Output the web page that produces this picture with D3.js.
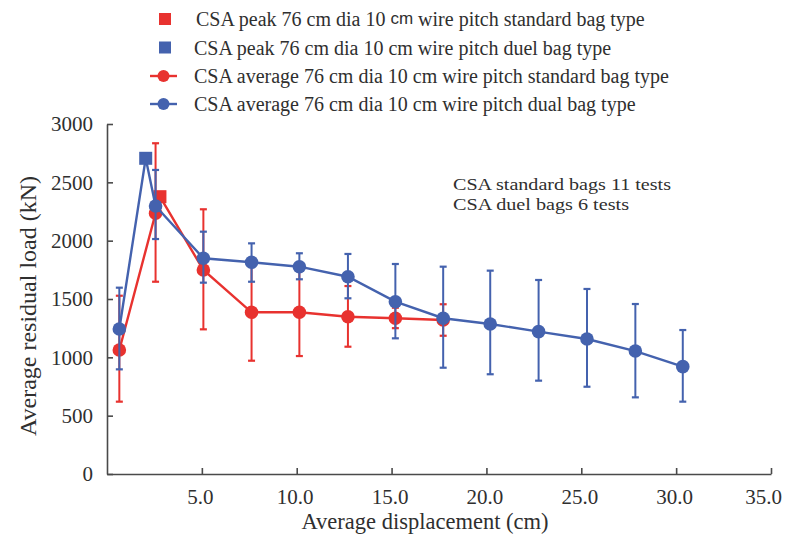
<!DOCTYPE html>
<html>
<head>
<meta charset="utf-8">
<script src="https://cdn.jsdelivr.net/npm/d3@7/dist/d3.min.js"></script>
<style>
  html, body { margin: 0; padding: 0; background: #fff; }
  svg { display: block; }
  text { font-family: "Liberation Serif", "Times New Roman", serif; fill: #2f2f2f; }
</style>
</head>
<body>
<svg id="chart" width="787" height="553"></svg>
<script>
// Standard bag type: average residual load with min/max range
const stdX     = [0.65, 2.56, 5.08, 7.62, 10.14, 12.7, 15.2, 17.72];
const stdAvg   = [1063, 2235, 1749, 1386, 1386, 1348, 1335, 1320];
const stdHigh  = [1528, 2835, 2269, 1800, 1760, 1611, 1425, 1455];
const stdLow   = [620, 1648, 1240, 971, 1011, 1091, 1250, 1185];

// Dual bag type: average residual load with min/max range
const dualX    = [0.65, 2.56, 5.08, 7.62, 10.14, 12.7, 15.2, 17.72, 20.2, 22.75, 25.3, 27.85, 30.35];
const dualAvg  = [1243, 2297, 1849, 1815, 1777, 1691, 1477, 1335, 1286, 1220, 1157, 1054, 920];
const dualHigh = [1597, 2606, 2077, 1977, 1892, 1886, 1800, 1777, 1743, 1663, 1586, 1457, 1234];
const dualLow  = [897, 2014, 1640, 1648, 1669, 1506, 1163, 911, 855, 800, 748, 657, 620];

// Peak loads
const stdPeakX  = 2.79, stdPeak  = 2377;
const dualPeakX = 2.04, dualPeak = 2706;

// Axis ticks
const xTicks = [5, 10, 15, 20, 25, 30, 35];
const yTicks = [0, 500, 1000, 1500, 2000, 2500, 3000];

const legendLabels = [
  ["CSA peak 76 cm dia 10 ", "cm", " wire pitch standard bag type"],
  ["CSA peak 76 cm dia 10 cm wire pitch duel bag type"],
  ["CSA average 76 cm dia 10 cm wire pitch standard bag type"],
  ["CSA average 76 cm dia 10 cm wire pitch dual bag type"]
];
const noteLines = ["CSA standard bags 11 tests", "CSA duel bags 6 tests"];

const RED = "#e8322f", BLUE = "#4462ae";

const svg = d3.select("#chart");
const x = d3.scaleLinear().domain([0, 35]).range([107, 771]);
const y = d3.scaleLinear().domain([0, 3000]).range([474, 124]);

// Axes with inward ticks
const axisColor = "#4a4a4a";
const gy = svg.append("g").attr("transform", `translate(${x(0)},0)`)
  .call(d3.axisLeft(y).tickValues(yTicks).tickSize(-6).tickSizeOuter(0).tickPadding(14).tickFormat(d3.format("d")));
const gx = svg.append("g").attr("transform", `translate(0,${y(0)})`)
  .call(d3.axisBottom(x).tickValues(xTicks).tickSize(-6).tickSizeOuter(0).tickPadding(15).tickFormat(d3.format(".1f")));
[gx, gy].forEach(g => {
  g.select(".domain").attr("stroke", axisColor).attr("stroke-width", 1.6);
  g.selectAll(".tick line").attr("stroke", axisColor).attr("stroke-width", 1.6);
  g.selectAll(".tick text").attr("font-size", 21).attr("fill", "#2f2f2f")
    .attr("font-family", "'Liberation Serif', 'Times New Roman', serif");
});
// keep the last x label inside the frame
gx.selectAll(".tick text").attr("dx", d => d === 35 ? -8 : -2);

// Axis titles
svg.append("text").attr("x", 425).attr("y", 529)
  .attr("text-anchor", "middle").attr("font-size", 22.5).text("Average displacement (cm)");
svg.append("text").attr("transform", `translate(36,${306}) rotate(-90)`)
  .attr("text-anchor", "middle").attr("font-size", 24).text("Average residual load (kN)");

// One series: error bars, connecting line through averages and peak, markers
function drawSeries(xs, avg, hi, lo, peakX, peak, color) {
  const g = svg.append("g");
  const cap = 3.5;
  xs.forEach((xv, i) => {
    const cx = x(xv);
    g.append("line").attr("x1", cx).attr("x2", cx).attr("y1", y(hi[i])).attr("y2", y(lo[i]))
      .attr("stroke", color).attr("stroke-width", 2);
    [hi[i], lo[i]].forEach(v => g.append("line")
      .attr("x1", cx - cap).attr("x2", cx + cap).attr("y1", y(v)).attr("y2", y(v))
      .attr("stroke", color).attr("stroke-width", 2.2));
  });
  const pts = xs.map((xv, i) => [xv, avg[i]]).concat([[peakX, peak]]).sort((a, b) => a[0] - b[0]);
  g.append("path").datum(pts)
    .attr("d", d3.line().x(d => x(d[0])).y(d => y(d[1])))
    .attr("fill", "none").attr("stroke", color).attr("stroke-width", 2.4);
  g.selectAll("circle").data(xs).join("circle")
    .attr("cx", d => x(d)).attr("cy", (d, i) => y(avg[i])).attr("r", 6.8).attr("fill", color);
  g.append("rect").attr("x", x(peakX) - 6.5).attr("y", y(peak) - 6.5)
    .attr("width", 13).attr("height", 13).attr("fill", color);
}

drawSeries(stdX, stdAvg, stdHigh, stdLow, stdPeakX, stdPeak, RED);
drawSeries(dualX, dualAvg, dualHigh, dualLow, dualPeakX, dualPeak, BLUE);

// Legend
const legend = svg.append("g");
const rowY = [19, 47.5, 76, 104];
const kinds = [["square", RED], ["square", BLUE], ["line", RED], ["line", BLUE]];
kinds.forEach(([kind, color], i) => {
  const cy = rowY[i];
  if (kind === "square") {
    legend.append("rect").attr("x", 159).attr("y", cy - 6).attr("width", 12).attr("height", 12).attr("fill", color);
  } else {
    legend.append("line").attr("x1", 150).attr("x2", 177).attr("y1", cy).attr("y2", cy)
      .attr("stroke", color).attr("stroke-width", 2.4);
    legend.append("circle").attr("cx", 163.5).attr("cy", cy).attr("r", 6).attr("fill", color);
  }
  const t = legend.append("text").attr("x", i === 0 ? 196 : 194).attr("y", cy + 7).attr("font-size", 20);
  legendLabels[i].forEach((part, j) => {
    const ts = t.append("tspan").text(part);
    if (legendLabels[i].length > 1 && j === 1) {
      ts.attr("font-family", "'Liberation Sans', Arial, sans-serif").attr("font-size", 17).attr("dy", -2);
    } else if (legendLabels[i].length > 1 && j === 2) {
      ts.attr("dy", 2);
    }
  });
});

// Test count note, set in a compact, slightly widened face
const noteWidths = [218, 176];
noteLines.forEach((line, i) => {
  svg.append("text").attr("x", 453).attr("y", 190 + i * 19.6).attr("font-size", 17)
    .attr("textLength", noteWidths[i]).attr("lengthAdjust", "spacingAndGlyphs").text(line);
});
</script>
</body>
</html>
